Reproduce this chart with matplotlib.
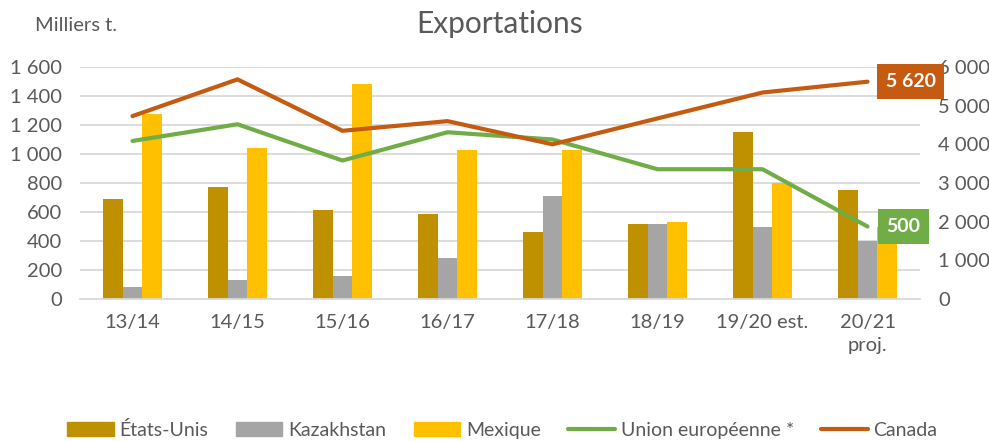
import matplotlib
matplotlib.use("Agg")
import matplotlib.pyplot as plt
from matplotlib.ticker import FuncFormatter, MultipleLocator
from matplotlib.patches import Patch
from matplotlib.lines import Line2D
import numpy as np

plt.rcParams['font.family'] = ['Lato', 'DejaVu Sans']

# campagnes
campagnes = ['13/14', '14/15', '15/16', '16/17', '17/18', '18/19', '19/20 est.', '20/21\nproj.']

# milliers de tonnes (axe gauche)
etats_unis = [690, 770, 615, 585, 465, 515, 1150, 750]
kazakhstan = [80, 130, 160, 285, 710, 515, 495, 400]
mexique = [1275, 1040, 1480, 1030, 1030, 530, 800, 495]
union_europeenne = [1090, 1205, 955, 1150, 1100, 895, 895, 500]

# milliers de tonnes (axe droit)
canada = [4730, 5680, 4350, 4600, 4000, 4670, 5340, 5620]

GRIS = '#595959'
C_US = '#BF9000'
C_KZ = '#A5A5A5'
C_MX = '#FFC000'
C_UE = '#70AD47'
C_CA = '#C55A11'

def milliers(v, pos):
    return f"{int(v):,}".replace(",", " ")

fig = plt.figure(figsize=(9.89, 4.41), dpi=100)
ax = fig.add_axes([80 / 989, 1 - 299 / 441, 840 / 989, 232 / 441])
ax2 = ax.twinx()

x = np.arange(len(campagnes))
w = 0.19
ax.bar(x - w, etats_unis, w, color=C_US, zorder=2)
ax.bar(x, kazakhstan, w, color=C_KZ, zorder=2)
ax.bar(x + w, mexique, w, color=C_MX, zorder=2)
ax.plot(x, union_europeenne, color=C_UE, lw=3, solid_capstyle='round', solid_joinstyle='round', zorder=3)
ax2.plot(x, canada, color=C_CA, lw=3, solid_capstyle='round', solid_joinstyle='round', zorder=3)

ax.set_xlim(-0.5, len(campagnes) - 0.5)
ax.set_ylim(0, 1600)
ax2.set_ylim(0, 6000)
ax.yaxis.set_major_locator(MultipleLocator(200))
ax2.yaxis.set_major_locator(MultipleLocator(1000))
ax.yaxis.set_major_formatter(FuncFormatter(milliers))
ax2.yaxis.set_major_formatter(FuncFormatter(milliers))

ax.grid(axis='y', color='#D9D9D9', lw=1.3, zorder=0)
ax.set_axisbelow(True)
for a in (ax, ax2):
    for s in a.spines.values():
        s.set_visible(False)
ax.spines['bottom'].set_visible(True)
ax.spines['bottom'].set_color('#D9D9D9')
ax.spines['bottom'].set_linewidth(1.3)

ax.set_xticks(x)
ax.set_xticklabels(campagnes, linespacing=1.4)
ax.tick_params(axis='x', length=0, pad=11, labelsize=14.5, labelcolor=GRIS)
ax.tick_params(axis='y', length=0, pad=13, labelsize=14.5, labelcolor=GRIS)
ax2.tick_params(axis='y', length=0, pad=13, labelsize=14.5, labelcolor=GRIS)

# étiquettes de la dernière valeur
ax2.annotate(milliers(canada[-1], None), (x[-1], canada[-1]), xytext=(43, 0),
             textcoords='offset pixels', ha='center', va='center', color='white',
             fontsize=14, fontweight='bold',
             bbox=dict(boxstyle='square,pad=0.45', fc=C_CA, ec='none'), zorder=2)
ax.annotate(milliers(union_europeenne[-1], None), (x[-1], union_europeenne[-1]), xytext=(36, 0),
            textcoords='offset pixels', ha='center', va='center', color='white',
            fontsize=14, fontweight='bold',
            bbox=dict(boxstyle='square,pad=0.45', fc=C_UE, ec='none'), zorder=5)

fig.text(0.505, 0.945, 'Exportations', ha='center', va='center', fontsize=21.5, color=GRIS)
fig.text(35 / 989, 0.942, 'Milliers t.', ha='left', va='center', fontsize=14.5, color=GRIS)

handles = [
    Patch(color=C_US, label='États-Unis'),
    Patch(color=C_KZ, label='Kazakhstan'),
    Patch(color=C_MX, label='Mexique'),
    Line2D([], [], color=C_UE, lw=3, solid_capstyle='round', label='Union européenne *'),
    Line2D([], [], color=C_CA, lw=3, solid_capstyle='round', label='Canada'),
]
leg = fig.legend(handles=handles, loc='center', bbox_to_anchor=(0.508, 1 - 430 / 441), ncol=5,
                 frameon=False, fontsize=14, handlelength=2.4, handletextpad=0.3,
                 columnspacing=1.4, labelcolor=GRIS)

fig.savefig('out.png', dpi=100)
